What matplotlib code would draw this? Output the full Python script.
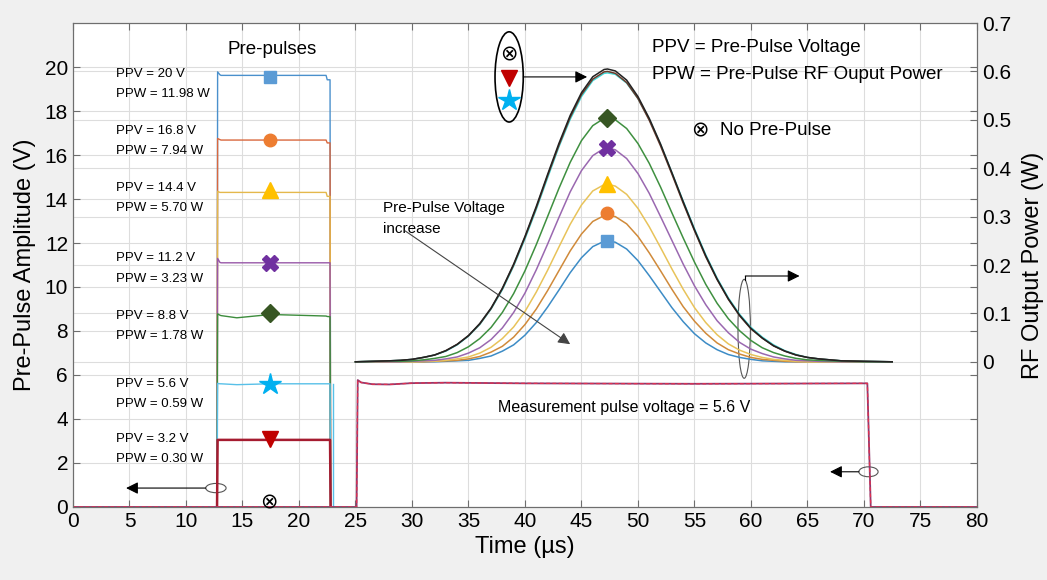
import matplotlib
matplotlib.use("Agg")
import matplotlib.pyplot as plt
from matplotlib.patches import Ellipse

plt.rcParams['font.family'] = ['Liberation Sans', 'DejaVu Sans']

# ---- pre-pulse traces (time in us, amplitude in V)
t_pp = [12.75, 12.8, 13.0, 13.1, 14.5, 17.5, 22.4, 22.5, 22.75, 22.8]
pp_blue = [0, 19.78, 19.65, 19.62, 19.62, 19.62, 19.62, 19.42, 19.42, 0]
pp_orange = [0, 16.75, 16.7, 16.68, 16.68, 16.68, 16.68, 16.55, 16.55, 0]
pp_yellow = [0, 14.35, 14.3, 14.3, 14.3, 14.3, 14.3, 14.12, 14.12, 0]
pp_purple = [0, 11.3, 11.12, 11.1, 11.1, 11.1, 11.1, 11.1, 11.1, 0]
pp_green = [0, 8.78, 8.72, 8.7, 8.6, 8.75, 8.68, 8.66, 8.65, 0]
pp_cyan = [0, 5.62, 5.6, 5.6, 5.56, 5.6, 5.6, 5.6, 5.6, 0]
pp_red = [0, 3.05, 3.05, 3.05, 3.05, 3.05, 3.05, 3.05, 3.05, 0]
t_cyan_end = [22.8, 23.0]

# ---- measurement pulse (common to all traces)
t_meas = [0, 25.1, 25.2, 25.5, 26.5, 28.0, 30.0, 33.0, 40.0, 55.0, 70.3, 70.6, 80]
v_meas = [0, 0, 5.77, 5.66, 5.58, 5.57, 5.63, 5.65, 5.62, 5.60, 5.62, 0, 0]

# ---- RF output power (W)
x_rf = [25, 28, 29, 30, 31, 32, 33, 34, 35, 36, 37, 38, 39, 40, 41, 42, 43, 44, 45, 46, 47, 47.3,
        48, 49, 50, 51, 52, 53, 54, 55, 56, 57, 58, 59, 60, 61, 62, 63, 64, 65, 66, 68, 70, 72.5]
rf_black = [0.0, 0.002, 0.003, 0.005, 0.009, 0.014, 0.023, 0.036, 0.054, 0.079, 0.111, 0.152,
            0.202, 0.259, 0.321, 0.387, 0.451, 0.509, 0.556, 0.589, 0.604, 0.605,
            0.601, 0.582, 0.548, 0.503, 0.450, 0.391, 0.331, 0.273, 0.219, 0.171, 0.130,
            0.096, 0.069, 0.049, 0.033, 0.022, 0.014, 0.009, 0.006, 0.002, 0.001, 0.0]
rf_brown = [0.0, 0.002, 0.003, 0.005, 0.009, 0.014, 0.023, 0.036, 0.054, 0.078, 0.110, 0.151,
            0.200, 0.257, 0.318, 0.384, 0.447, 0.505, 0.552, 0.584, 0.599, 0.600,
            0.596, 0.577, 0.544, 0.499, 0.446, 0.388, 0.328, 0.271, 0.217, 0.170, 0.129,
            0.095, 0.068, 0.049, 0.033, 0.022, 0.014, 0.009, 0.006, 0.002, 0.001, 0.0]
rf_cyan = [0.0, 0.002, 0.003, 0.005, 0.009, 0.014, 0.022, 0.035, 0.053, 0.077, 0.109, 0.149,
           0.198, 0.254, 0.315, 0.380, 0.444, 0.501, 0.548, 0.581, 0.596, 0.597,
           0.594, 0.576, 0.544, 0.501, 0.449, 0.391, 0.332, 0.275, 0.221, 0.173, 0.132,
           0.098, 0.071, 0.051, 0.035, 0.023, 0.015, 0.009, 0.006, 0.002, 0.001, 0.0]
rf_green = [0.0, 0.001, 0.001, 0.002, 0.004, 0.007, 0.011, 0.019, 0.031, 0.048, 0.071, 0.102,
            0.141, 0.188, 0.242, 0.300, 0.358, 0.412, 0.457, 0.488, 0.503, 0.504,
            0.500, 0.482, 0.451, 0.410, 0.361, 0.308, 0.256, 0.206, 0.160, 0.121, 0.089,
            0.064, 0.044, 0.029, 0.019, 0.012, 0.007, 0.004, 0.003, 0.001, 0.0, 0.0]
rf_purple = [0.0, 0.0, 0.0, 0.001, 0.002, 0.003, 0.006, 0.010, 0.018, 0.029, 0.046, 0.070,
             0.102, 0.142, 0.190, 0.243, 0.298, 0.351, 0.395, 0.426, 0.441, 0.442,
             0.438, 0.420, 0.389, 0.348, 0.300, 0.251, 0.202, 0.157, 0.118, 0.085, 0.060,
             0.040, 0.026, 0.017, 0.010, 0.006, 0.003, 0.002, 0.001, 0.0, 0.0, 0.0]
rf_yellow = [0.0, 0.0, 0.0, 0.0, 0.001, 0.001, 0.003, 0.006, 0.010, 0.018, 0.030, 0.048,
             0.072, 0.104, 0.144, 0.189, 0.237, 0.284, 0.324, 0.353, 0.366, 0.367,
             0.363, 0.346, 0.317, 0.279, 0.236, 0.192, 0.150, 0.112, 0.081, 0.056, 0.037,
             0.024, 0.015, 0.009, 0.005, 0.003, 0.001, 0.0, 0.0, 0.0, 0.0, 0.0]
rf_orange = [0.0, 0.0, 0.0, 0.0, 0.0, 0.001, 0.002, 0.003, 0.006, 0.011, 0.020, 0.032,
             0.051, 0.077, 0.109, 0.147, 0.188, 0.229, 0.264, 0.290, 0.302, 0.303,
             0.300, 0.285, 0.259, 0.225, 0.188, 0.150, 0.114, 0.084, 0.059, 0.039, 0.025,
             0.016, 0.009, 0.005, 0.003, 0.001, 0.0, 0.0, 0.0, 0.0, 0.0, 0.0]
rf_blue = [0.0, 0.0, 0.0, 0.0, 0.0, 0.0, 0.001, 0.002, 0.003, 0.007, 0.012, 0.022,
           0.035, 0.055, 0.081, 0.113, 0.148, 0.184, 0.215, 0.238, 0.249, 0.250,
           0.247, 0.233, 0.209, 0.178, 0.145, 0.112, 0.083, 0.058, 0.039, 0.025, 0.015,
           0.009, 0.005, 0.002, 0.001, 0.0, 0.0, 0.0, 0.0, 0.0, 0.0, 0.0]

# markers
pp_marker_x = 17.4
pp_marker_y = [19.55, 16.7, 14.4, 11.1, 8.8, 5.6, 3.1]
rf_marker_x = 47.3
rf_marker_y = [0.25, 0.307, 0.367, 0.442, 0.504]

ppv_labels = ["PPV = 20 V", "PPV = 16.8 V", "PPV = 14.4 V", "PPV = 11.2 V",
              "PPV = 8.8 V", "PPV = 5.6 V", "PPV = 3.2 V"]
ppw_labels = ["PPW = 11.98 W", "PPW = 7.94 W", "PPW = 5.70 W", "PPW = 3.23 W",
              "PPW = 1.78 W", "PPW = 0.59 W", "PPW = 0.30 W"]
label_y = [19.7, 17.1, 14.5, 11.3, 8.7, 5.6, 3.1]

fig = plt.figure(figsize=(10.47, 5.80), dpi=100, facecolor='#f0f0f0')
ax1 = fig.add_axes([0.0697, 0.1259, 0.8634, 0.8344])
ax2 = ax1.twinx()
ax1.set_zorder(2)
ax2.set_zorder(1)
ax1.patch.set_visible(False)
ax2.patch.set_visible(True)
ax2.patch.set_facecolor('white')

gridc = '#dddddd'
ax2.set_ylim(-0.3, 0.7)
ax2.set_yticks([0, 0.1, 0.2, 0.3, 0.4, 0.5, 0.6, 0.7])
ax2.set_yticklabels(["0", "0.1", "0.2", "0.3", "0.4", "0.5", "0.6", "0.7"])
ax2.grid(True, axis='y', color=gridc, lw=0.8)
ax2.set_ylabel("RF Output Power (W)", fontsize=17, labelpad=8)

ax1.set_xlim(0, 80)
ax1.set_ylim(0, 22)
ax1.set_xticks(range(0, 81, 5))
ax1.set_yticks(range(0, 21, 2))
ax1.grid(True, color=gridc, lw=0.8)
ax1.set_axisbelow(True)
ax1.set_xlabel("Time (\u00b5s)", fontsize=17, labelpad=4)
ax1.set_ylabel("Pre-Pulse Amplitude (V)", fontsize=17, labelpad=6)

for a in (ax1, ax2):
    for s in a.spines.values():
        s.set_color('#6e6e6e')
    a.tick_params(direction='in', length=5, width=0.8, color='#6e6e6e', labelsize=15)
ax1.tick_params(top=True, right=True)

# pre-pulse traces
pp_sets = [(pp_blue, '#4a90cc', 1.0), (pp_orange, '#d9683e', 1.0), (pp_yellow, '#e4b84c', 1.0),
           (pp_purple, '#9858a8', 1.0), (pp_green, '#3c8c3c', 1.0), (pp_cyan, '#58c0e8', 1.0),
           (pp_red, '#a51c30', 1.8)]
for vals, c, lw in pp_sets:
    ax1.plot(t_pp, vals, color=c, lw=lw)
ax1.plot(t_cyan_end, [0, 0], color='#58c0e8', lw=1.0)
ax1.plot([23.0, 23.0], [5.6, 0], color='#58c0e8', lw=1.0)

# measurement pulse
ax1.plot(t_meas, v_meas, color='#8e3a6e', lw=1.3)
ax1.plot(t_meas, v_meas, color='#e03050', lw=0.9, ls='--', dashes=(3, 2))

# RF curves on the right scale
rf_sets = [(rf_blue, '#3d8cc6'), (rf_orange, '#d08a3a'), (rf_yellow, '#e8c35a'),
           (rf_purple, '#9a68b0'), (rf_green, '#3f9040'), (rf_cyan, '#3fd8d8'),
           (rf_brown, '#6b3a2a'), (rf_black, '#222222')]
for vals, c in rf_sets:
    ax1.plot(x_rf, vals, color=c, lw=1.1, transform=ax2.transData)

# markers
mk = [('s', '#5b9bd5', 9), ('o', '#ed7d31', 9), ('^', '#ffc000', 11), ('X', '#7030a0', 11),
      ('D', '#375623', 9), ('*', '#00b0f0', 16), ('v', '#c00000', 11)]
for (m, c, ms), y in zip(mk, pp_marker_y):
    ax1.plot([pp_marker_x], [y], marker=m, color=c, ms=ms, mec=c, ls='none')
for (m, c, ms), y in zip(mk[:5], rf_marker_y):
    ax1.plot([rf_marker_x], [y], marker=m, color=c, ms=ms, mec=c, ls='none',
             transform=ax2.transData)

# texts
ax1.text(17.6, 20.8, "Pre-pulses", fontsize=13.5, ha='center', va='center')
for lab1, lab2, y in zip(ppv_labels, ppw_labels, label_y):
    ax1.text(3.8, y, lab1, fontsize=9.5, ha='left', va='center')
    ax1.text(3.8, y - 0.92, lab2, fontsize=9.5, ha='left', va='center')

ax1.text(51.2, 20.9, "PPV = Pre-Pulse Voltage", fontsize=13.5, ha='left', va='center')
ax1.text(51.2, 19.65, "PPW = Pre-Pulse RF Ouput Power", fontsize=13.5, ha='left', va='center')
ax1.text(55.5, 17.1, "\u2297", fontsize=15, family='DejaVu Sans', ha='center', va='center')
ax1.text(57.3, 17.1, "No Pre-Pulse", fontsize=13.5, ha='left', va='center')
ax1.text(27.4, 13.6, "Pre-Pulse Voltage", fontsize=11, ha='left', va='center')
ax1.text(27.4, 12.65, "increase", fontsize=11, ha='left', va='center')
ax1.text(37.6, 4.5, "Measurement pulse voltage = 5.6 V", fontsize=11.5, ha='left', va='center')

# no pre-pulse symbol at the bottom
ax1.text(17.3, 0.2, "\u2297", fontsize=15, family='DejaVu Sans', ha='center', va='center')

# ellipse with legend symbols
ax1.add_patch(Ellipse((38.6, 19.55), 2.5, 4.1, fill=False, ec='black', lw=1.2))
ax1.text(38.6, 20.55, "\u2297", fontsize=15, family='DejaVu Sans', ha='center', va='center')
ax1.plot([38.6], [19.5], marker='v', color='#c00000', ms=11, ls='none')
ax1.plot([38.6], [18.5], marker='*', color='#00b0f0', ms=16, ls='none')

arrow = dict(arrowstyle='-|>', color='black', lw=0.8, mutation_scale=18, shrinkA=0, shrinkB=0)
ax1.annotate("", xy=(45.5, 19.55), xytext=(39.85, 19.55), arrowprops=arrow)
ax1.annotate("", xy=(44.0, 7.4), xytext=(29.4, 12.55),
             arrowprops=dict(arrowstyle='-|>', color='#444444', lw=0.8, mutation_scale=18,
                             shrinkA=0, shrinkB=0))

# right axis pointer
ax1.add_patch(Ellipse((59.4, 8.1), 1.1, 4.5, fill=False, ec='#555555', lw=0.8))
ax1.annotate("", xy=(64.3, 10.5), xytext=(59.5, 10.5), arrowprops=arrow)
ax1.plot([59.5, 59.5], [10.3, 10.5], color='black', lw=0.8)

# left axis pointers
ax1.add_patch(Ellipse((12.65, 0.86), 1.8, 0.42, fill=False, ec='#555555', lw=0.8))
ax1.annotate("", xy=(4.7, 0.86), xytext=(11.75, 0.86), arrowprops=arrow)
ax1.add_patch(Ellipse((70.4, 1.6), 1.7, 0.45, fill=False, ec='#555555', lw=0.8))
ax1.annotate("", xy=(67.0, 1.6), xytext=(69.55, 1.6), arrowprops=arrow)

fig.savefig("out.png", dpi=100, facecolor=fig.get_facecolor())
